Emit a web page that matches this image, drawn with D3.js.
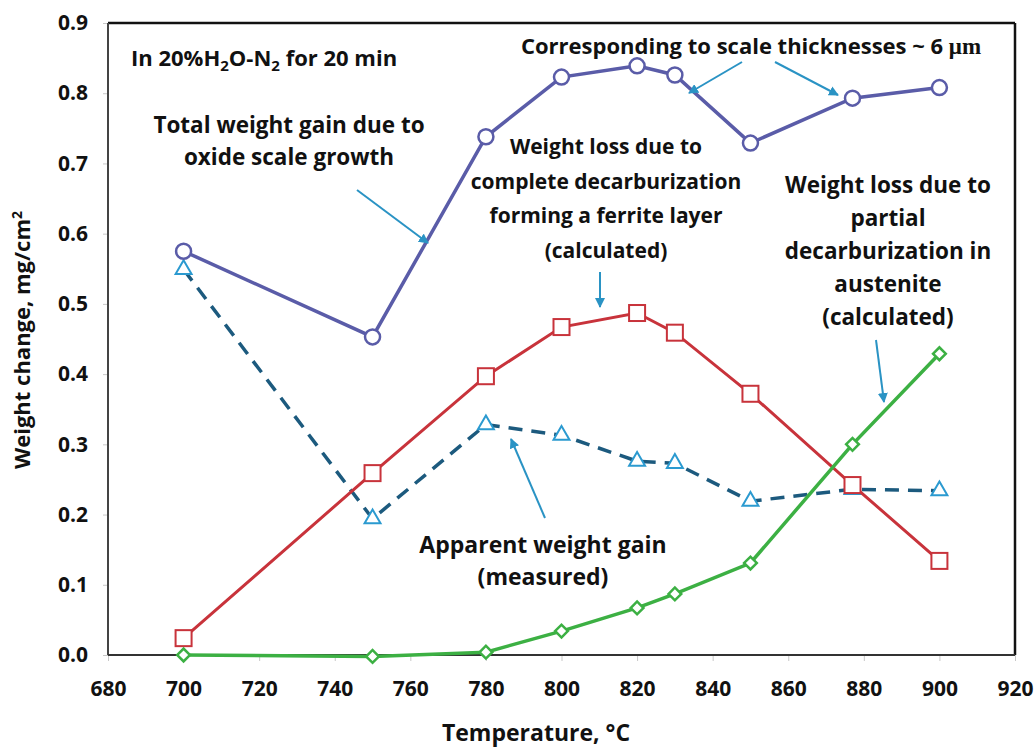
<!DOCTYPE html>
<html>
<head>
<meta charset="utf-8">
<script src="https://cdn.jsdelivr.net/npm/d3@7"></script>
<style>
  html, body { margin: 0; padding: 0; background: #fff; }
  svg { display: block; font-family: "Open Sans", Lato, sans-serif; font-weight: bold; }
</style>
</head>
<body>
<svg id="chart" width="1036" height="749"></svg>
<script>
// Temperatures (°C) at which the specimens were oxidised
const temperatures = [700, 750, 780, 800, 820, 830, 850, 877, 900];

// Weight change, mg/cm²
const totalGain      = [0.575, 0.453, 0.738, 0.823, 0.839, 0.826, 0.729, 0.793, 0.808];
const ferriteLoss    = [0.024, 0.259, 0.397, 0.467, 0.487, 0.459, 0.372, 0.242, 0.134];
const austeniteLoss  = [0.000, -0.002, 0.004, 0.034, 0.067, 0.087, 0.131, 0.300, 0.429];
const apparentGain   = [0.549, 0.194, 0.328, 0.313, 0.276, 0.273, 0.219, 0.236, 0.234];

// Axis ticks
const xTicks = [680, 700, 720, 740, 760, 780, 800, 820, 840, 860, 880, 900, 920];
const yTicks = [0, 0.1, 0.2, 0.3, 0.4, 0.5, 0.6, 0.7, 0.8, 0.9];

const svg = d3.select("#chart");
const plotLeft = 108, plotRight = 1015, plotTop = 23, plotBottom = 655;
const ink = "#111";

const x = d3.scaleLinear().domain([680, 920]).range([plotLeft, plotRight]);
const y = d3.scaleLinear().domain([0, 0.9]).range([plotBottom, plotTop]);

// Axes
const yAxis = svg.append("g")
  .attr("transform", `translate(${plotLeft},0)`)
  .call(d3.axisLeft(y).tickValues(yTicks).tickFormat(d3.format(".1f")).tickSize(5).tickPadding(15));
const xAxis = svg.append("g")
  .attr("transform", `translate(0,${plotBottom})`)
  .call(d3.axisBottom(x).tickValues(xTicks).tickFormat(d3.format("d")).tickSize(6).tickPadding(20));
[yAxis, xAxis].forEach(g => {
  g.select(".domain").remove();
  g.selectAll(".tick line").attr("stroke", "#c8c8c8").attr("stroke-width", 1);
  g.selectAll(".tick text").attr("fill", ink)
    .style("font-family", "'Open Sans', sans-serif").style("font-size", "21px").style("font-weight", "bold");
});

// Plot frame
svg.append("line").attr("x1", plotLeft).attr("x2", plotRight).attr("y1", plotTop).attr("y2", plotTop)
  .attr("stroke", ink).attr("stroke-width", 2.5);
svg.append("line").attr("x1", plotRight).attr("x2", plotRight).attr("y1", plotTop).attr("y2", plotBottom)
  .attr("stroke", ink).attr("stroke-width", 2.5);
svg.append("line").attr("x1", plotLeft).attr("x2", plotLeft).attr("y1", plotTop).attr("y2", plotBottom)
  .attr("stroke", "#444").attr("stroke-width", 2);
svg.append("line").attr("x1", plotLeft).attr("x2", plotRight).attr("y1", plotBottom).attr("y2", plotBottom)
  .attr("stroke", "#333").attr("stroke-width", 2);

// Axis titles
svg.append("text").attr("x", 536).attr("y", 741).attr("text-anchor", "middle")
  .style("font-size", "23px").attr("fill", ink).text("Temperature, °C");
const yt = svg.append("text").attr("transform", "translate(30,340) rotate(-90)")
  .attr("text-anchor", "middle").style("font-size", "22px").attr("fill", ink);
yt.append("tspan").text("Weight change, mg/cm");
yt.append("tspan").attr("dy", -8).style("font-size", "14px").text("2");

// Series
const line = vals => d3.line().x((d, i) => x(temperatures[i])).y(d => y(d))(vals);

// Apparent weight gain (measured): dashed
svg.append("path").attr("d", line(apparentGain)).attr("fill", "none")
  .attr("stroke", "#1c5a7e").attr("stroke-width", 3.5).attr("stroke-dasharray", "14,9");
svg.append("g").selectAll("path").data(apparentGain).join("path")
  .attr("transform", (d, i) => `translate(${x(temperatures[i])},${y(d)})`)
  .attr("d", d3.symbol(d3.symbolTriangle, 110)())
  .attr("fill", "#fff").attr("stroke", "#2b9ad0").attr("stroke-width", 2);

// Ferrite-layer decarburization loss
svg.append("path").attr("d", line(ferriteLoss)).attr("fill", "none")
  .attr("stroke", "#c8333b").attr("stroke-width", 3);
svg.append("g").selectAll("rect").data(ferriteLoss).join("rect")
  .attr("x", (d, i) => x(temperatures[i]) - 8).attr("y", d => y(d) - 8)
  .attr("width", 16).attr("height", 16)
  .attr("fill", "#fff").attr("stroke", "#c8333b").attr("stroke-width", 2);

// Austenite partial decarburization loss
svg.append("path").attr("d", line(austeniteLoss)).attr("fill", "none")
  .attr("stroke", "#3cb043").attr("stroke-width", 3.5);
svg.append("g").selectAll("path").data(austeniteLoss).join("path")
  .attr("transform", (d, i) => `translate(${x(temperatures[i])},${y(d)}) rotate(45)`)
  .attr("d", "M-4.5,-4.5H4.5V4.5H-4.5Z")
  .attr("fill", "#fff").attr("stroke", "#3cb043").attr("stroke-width", 2.5);

// Total weight gain from oxide scale growth
svg.append("path").attr("d", line(totalGain)).attr("fill", "none")
  .attr("stroke", "#5a5ca8").attr("stroke-width", 3.5);
svg.append("g").selectAll("circle").data(totalGain).join("circle")
  .attr("cx", (d, i) => x(temperatures[i])).attr("cy", d => y(d)).attr("r", 7.5)
  .attr("fill", "#fff").attr("stroke", "#5a5ca8").attr("stroke-width", 2.5);

// Annotation arrows
const defs = svg.append("defs");
defs.append("marker").attr("id", "arrow").attr("viewBox", "0 0 10 10")
  .attr("refX", 9).attr("refY", 5).attr("markerWidth", 5).attr("markerHeight", 5)
  .attr("markerUnits", "strokeWidth").attr("orient", "auto")
  .append("path").attr("d", "M0,0L10,5L0,10Z").attr("fill", "#2a93c4");

const arrows = [
  [357, 190, 428, 243],
  [742, 62, 689, 93],
  [775, 62, 838, 95],
  [600, 272, 600, 307],
  [876, 340, 884, 402],
  [545, 518, 511, 439]
];
svg.append("g").selectAll("line").data(arrows).join("line")
  .attr("x1", d => d[0]).attr("y1", d => d[1]).attr("x2", d => d[2]).attr("y2", d => d[3])
  .attr("stroke", "#2a93c4").attr("stroke-width", 2).attr("marker-end", "url(#arrow)");

// Annotation text
function block(cx, y0, dy, size, lines) {
  const t = svg.append("text").attr("text-anchor", "middle").style("font-size", size + "px").attr("fill", ink);
  lines.forEach((s, i) => t.append("tspan").attr("x", cx).attr("y", y0 + i * dy).text(s));
}
block(289, 133, 32, 22.5, ["Total weight gain due to", "oxide scale growth"]);
block(606, 154, 34.5, 21, ["Weight loss due to", "complete decarburization", "forming a ferrite layer", "(calculated)"]);
block(888, 193, 33, 22.5, ["Weight loss due to", "partial", "decarburization in", "austenite", "(calculated)"]);
block(543, 553, 32, 23, ["Apparent weight gain", "(measured)"]);

const c = svg.append("text").attr("x", 751).attr("y", 54).attr("text-anchor", "middle")
  .style("font-size", "22px").attr("fill", ink);
c.append("tspan").text("Corresponding to scale thicknesses ~ 6 ");
c.append("tspan").style("font-family", "'Liberation Serif', serif").style("font-size", "23px").text("μm");

const cond = svg.append("text").attr("x", 131).attr("y", 66).style("font-size", "22px").attr("fill", ink);
cond.append("tspan").text("In 20%H");
cond.append("tspan").attr("dy", 5).style("font-size", "15px").text("2");
cond.append("tspan").attr("dy", -5).text("O-N");
cond.append("tspan").attr("dy", 5).style("font-size", "15px").text("2");
cond.append("tspan").attr("dy", -5).text(" for 20 min");
</script>
</body>
</html>
